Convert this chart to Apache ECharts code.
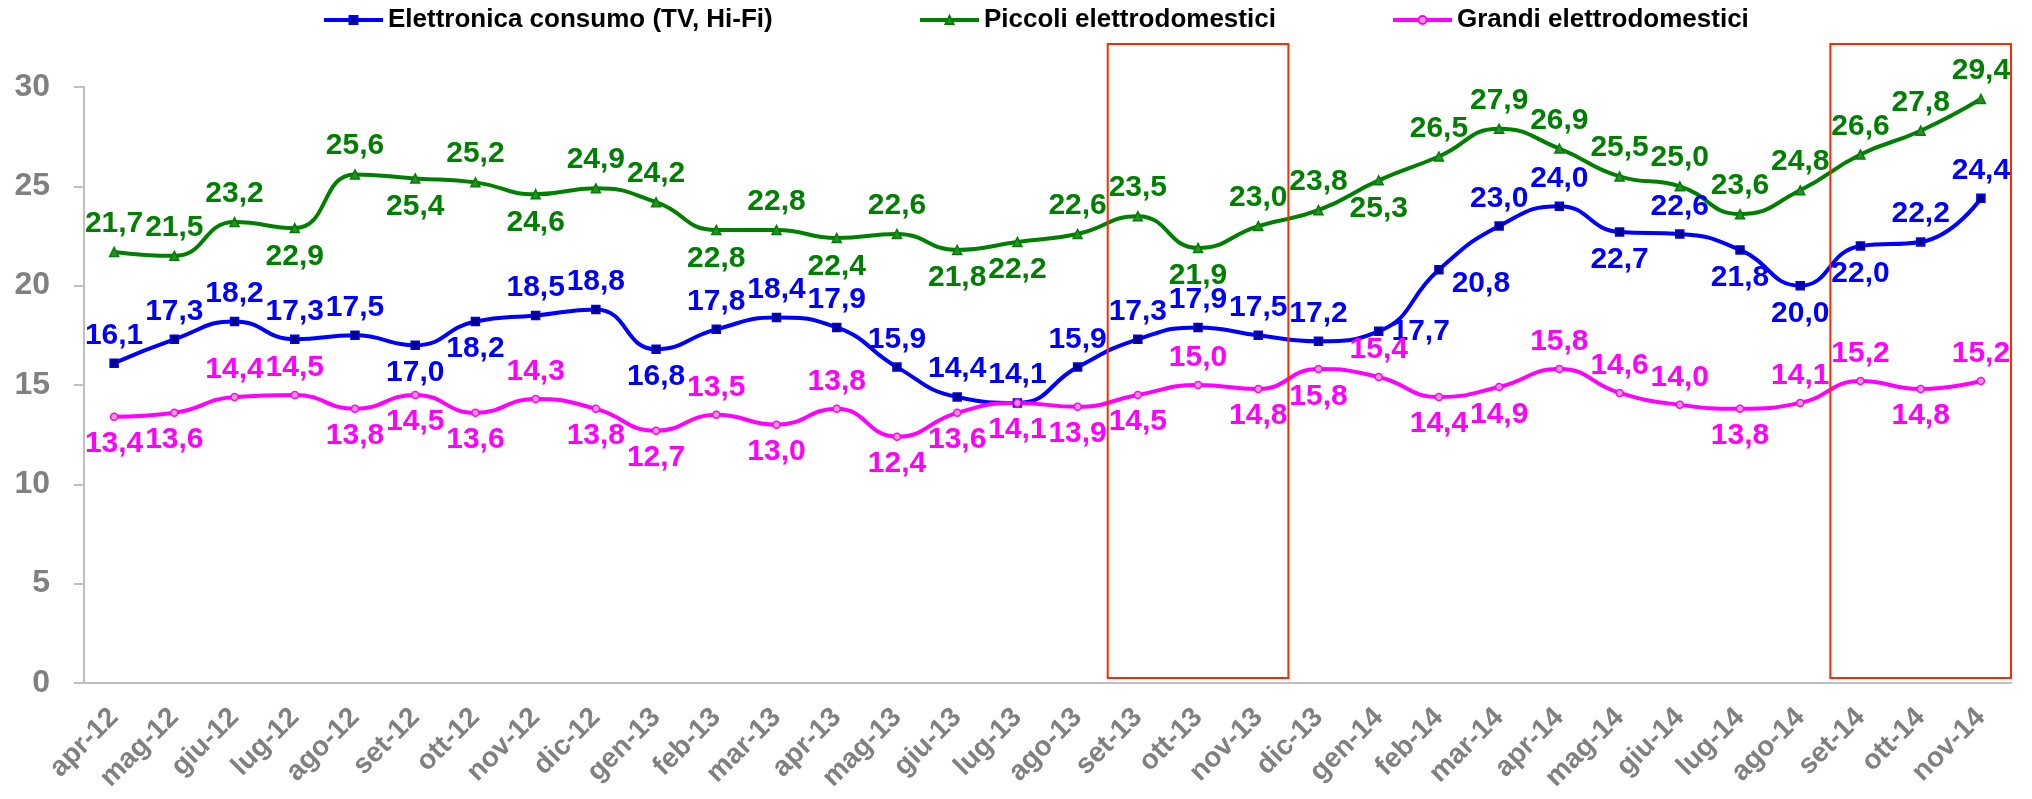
<!DOCTYPE html>
<html>
<head>
<meta charset="utf-8">
<script src="https://cdn.jsdelivr.net/npm/echarts@6/dist/echarts.min.js"></script>
<style>
  html, body { margin: 0; padding: 0; background: #fff; }
  #chart { width: 2032px; height: 799px; }
</style>
</head>
<body>
<div id="chart"></div>
<script>
const months = ['apr-12', 'mag-12', 'giu-12', 'lug-12', 'ago-12', 'set-12', 'ott-12', 'nov-12', 'dic-12',
  'gen-13', 'feb-13', 'mar-13', 'apr-13', 'mag-13', 'giu-13', 'lug-13', 'ago-13', 'set-13', 'ott-13', 'nov-13', 'dic-13',
  'gen-14', 'feb-14', 'mar-14', 'apr-14', 'mag-14', 'giu-14', 'lug-14', 'ago-14', 'set-14', 'ott-14', 'nov-14'];

const elettronica = [16.1, 17.3, 18.2, 17.3, 17.5, 17.0, 18.2, 18.5, 18.8, 16.8, 17.8, 18.4, 17.9, 15.9, 14.4, 14.1,
  15.9, 17.3, 17.9, 17.5, 17.2, 17.7, 20.8, 23.0, 24.0, 22.7, 22.6, 21.8, 20.0, 22.0, 22.2, 24.4];
const piccoli = [21.7, 21.5, 23.2, 22.9, 25.6, 25.4, 25.2, 24.6, 24.9, 24.2, 22.8, 22.8, 22.4, 22.6, 21.8, 22.2,
  22.6, 23.5, 21.9, 23.0, 23.8, 25.3, 26.5, 27.9, 26.9, 25.5, 25.0, 23.6, 24.8, 26.6, 27.8, 29.4];
const grandi = [13.4, 13.6, 14.4, 14.5, 13.8, 14.5, 13.6, 14.3, 13.8, 12.7, 13.5, 13.0, 13.8, 12.4, 13.6, 14.1,
  13.9, 14.5, 15.0, 14.8, 15.8, 15.4, 14.4, 14.9, 15.8, 14.6, 14.0, 13.8, 14.1, 15.2, 14.8, 15.2];

// where each value label sits: t = top, b = bottom, r = right, d = right and a bit lower
const elettronicaPos = 'tttttbbttbtttttttttttrdttbtbbbtt';
const piccoliPos = 'tttbtbtbttbtbtbbttbttbtttttttttt';
const grandiPos = 'bbttbbbtbbtbtbbbbbtbbtbbtttbttbt';

// periods boxed in red
const highlights = [['set-13', 'nov-13'], ['set-14', 'nov-14']];

const FONT = '"Liberation Sans", Arial, sans-serif';
const posLabel = {
  t: { position: 'top' },
  b: { position: 'bottom' },
  r: { position: 'right' },
  d: { position: 'right', offset: [0, 14] }
};

function makeSeries(name, values, pos, color, symbol, size, fill) {
  return {
    name: name,
    type: 'line',
    smooth: 0.5,
    symbol: symbol,
    symbolSize: size,
    showAllSymbol: true,
    lineStyle: { color: color, width: 4 },
    itemStyle: { color: fill, borderColor: color, borderWidth: 1.5 },
    label: {
      show: true,
      distance: 8,
      color: color,
      fontFamily: FONT,
      fontWeight: 'bold',
      fontSize: 30,
      formatter: (p) => p.value.toFixed(1).replace('.', ',')
    },
    data: values.map((v, i) => ({ value: v, label: posLabel[pos[i]] }))
  };
}

const chart = echarts.init(document.getElementById('chart'));

const legendText = { color: '#000', fontFamily: FONT, fontWeight: 'bold', fontSize: 26 };
const legendBase = { top: 2, itemWidth: 59, itemHeight: 10, lineStyle: { width: 4 }, textStyle: legendText };

chart.setOption({
  animation: false,
  backgroundColor: '#fff',
  legend: [
    Object.assign({ left: 317, data: ['Elettronica consumo (TV, Hi-Fi)'] }, legendBase),
    Object.assign({ left: 913, data: ['Piccoli elettrodomestici'] }, legendBase),
    Object.assign({ left: 1386, data: ['Grandi elettrodomestici'] }, legendBase)
  ],
  grid: { left: 84, right: 21, top: 87, bottom: 116 },
  xAxis: {
    type: 'category',
    data: months,
    axisLine: { lineStyle: { color: '#bfbfbf', width: 2 } },
    axisTick: { length: 8, lineStyle: { color: '#bfbfbf', width: 2 } },
    axisLabel: {
      interval: 0,
      rotate: 45,
      margin: 30,
      color: '#808080',
      fontFamily: FONT,
      fontWeight: 'bold',
      fontSize: 28
    }
  },
  yAxis: {
    type: 'value',
    min: 0,
    max: 30,
    interval: 5,
    splitLine: { show: false },
    axisLine: { show: true, lineStyle: { color: '#bfbfbf', width: 2 } },
    axisTick: { show: true, length: 10, lineStyle: { color: '#bfbfbf', width: 2 } },
    axisLabel: {
      margin: 34,
      color: '#808080',
      fontFamily: FONT,
      fontWeight: 'bold',
      fontSize: 32
    }
  },
  series: [
    makeSeries('Elettronica consumo (TV, Hi-Fi)', elettronica, elettronicaPos, '#0000ff', 'rect', 8, '#000080'),
    makeSeries('Piccoli elettrodomestici', piccoli, piccoliPos, '#008000', 'triangle', 9, '#2e8b2e'),
    makeSeries('Grandi elettrodomestici', grandi, grandiPos, '#ff00ff', 'circle', 7, '#ff99cc')
  ]
});

// red boxes, placed from the axes
const boxTop = 32.16;
const boxBottom = 0.25;
const band = chart.convertToPixel({ xAxisIndex: 0 }, months[1]) - chart.convertToPixel({ xAxisIndex: 0 }, months[0]);
const boxes = highlights.map(function (h) {
  const x1 = chart.convertToPixel({ xAxisIndex: 0 }, h[0]) - band / 2;
  const x2 = chart.convertToPixel({ xAxisIndex: 0 }, h[1]) + band / 2;
  const y1 = chart.convertToPixel({ yAxisIndex: 0 }, boxTop);
  const y2 = chart.convertToPixel({ yAxisIndex: 0 }, boxBottom);
  return {
    type: 'rect',
    z: 100,
    shape: { x: x1, y: y1, width: x2 - x1, height: y2 - y1 },
    style: { fill: 'none', stroke: '#ff2a00', lineWidth: 2 }
  };
});
chart.setOption({ graphic: boxes });
</script>
</body>
</html>
